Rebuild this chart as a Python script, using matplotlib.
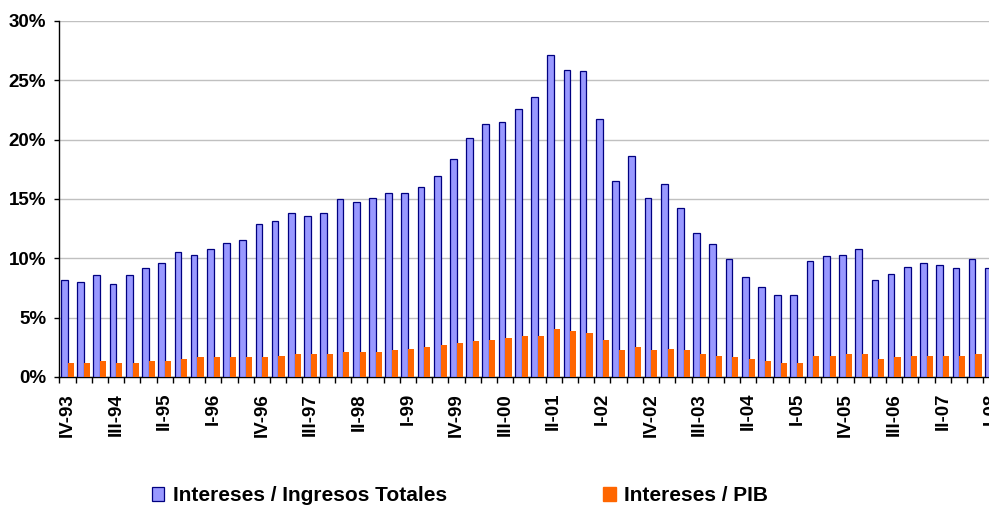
import matplotlib.pyplot as plt
from matplotlib.patches import Patch
from matplotlib.ticker import FuncFormatter, MultipleLocator

plt.rcParams['font.family'] = ['Liberation Sans', 'DejaVu Sans']
plt.rcParams['font.weight'] = 'bold'

# quarters IV-93 .. I-08
roman = ['I', 'II', 'III', 'IV']
quarters = ['IV-93']
for yy in ['94', '95', '96', '97', '98', '99', '00', '01', '02', '03', '04', '05', '06', '07']:
    for r in roman:
        quarters.append(r + '-' + yy)
quarters.append('I-08')

# intereses / ingresos totales (%)
int_ingresos = [8.2, 8.0, 8.6, 7.8, 8.6, 9.2, 9.6, 10.5, 10.3, 10.8,
                11.3, 11.5, 12.9, 13.1, 13.8, 13.6, 13.8, 15.0, 14.7, 15.1,
                15.5, 15.5, 16.0, 16.9, 18.4, 20.1, 21.3, 21.5, 22.6, 23.6,
                27.1, 25.9, 25.8, 21.7, 16.5, 18.6, 15.1, 16.3, 14.2, 12.1,
                11.2, 9.9, 8.4, 7.6, 6.9, 6.9, 9.8, 10.2, 10.3, 10.8,
                8.2, 8.7, 9.3, 9.6, 9.4, 9.2, 9.9, 9.2]
# intereses / PIB (%)
int_pib = [1.2, 1.2, 1.35, 1.2, 1.2, 1.35, 1.35, 1.5, 1.7, 1.7,
           1.7, 1.7, 1.7, 1.8, 1.95, 1.95, 1.95, 2.1, 2.1, 2.1,
           2.3, 2.35, 2.5, 2.7, 2.85, 3.0, 3.1, 3.3, 3.45, 3.45,
           4.05, 3.9, 3.7, 3.1, 2.3, 2.5, 2.3, 2.35, 2.3, 1.95,
           1.8, 1.7, 1.5, 1.35, 1.2, 1.2, 1.8, 1.8, 1.95, 1.95,
           1.5, 1.7, 1.8, 1.8, 1.8, 1.8, 1.95, 1.9]

blue = '#9999ff'
navy = '#000080'
orange = '#ff6600'

fig = plt.figure(figsize=(9.89, 5.08), dpi=100)
ax = fig.add_axes([0.06, 0.258, 0.9506, 0.7008])

x = list(range(len(quarters)))
ax.bar([i - 0.395 for i in x], int_ingresos, width=0.415, align='edge',
       color=blue, edgecolor=navy, linewidth=0.9, zorder=3)
ax.bar([i + 0.02 for i in x], int_pib, width=0.375, align='edge',
       color=orange, linewidth=0, zorder=3)

ax.set_xlim(-0.5, len(quarters) - 0.5)
ax.set_ylim(0, 30)
ax.yaxis.set_major_locator(MultipleLocator(5))
ax.yaxis.set_major_formatter(FuncFormatter(lambda v, p: '%d%%' % v))
ax.grid(axis='y', color='#c0c0c0', linewidth=1, zorder=0)

ax.set_xticks(x[::3])
ax.set_xticklabels(quarters[::3], rotation=90, va='top', ha='center')
ax.set_xticks([i - 0.5 for i in range(len(quarters) + 1)], minor=True)
ax.tick_params(axis='x', which='major', length=0, pad=11.5, labelsize=13.5)
ax.tick_params(axis='x', which='minor', length=4, width=1, direction='out')
ax.tick_params(axis='y', length=3.5, width=1, pad=6, labelsize=13.5)

for s in ['top', 'right']:
    ax.spines[s].set_visible(False)
ax.spines['left'].set_linewidth(1)
ax.spines['bottom'].set_linewidth(1)

handles = [Patch(facecolor=blue, edgecolor=navy, linewidth=0.9),
           Patch(facecolor=orange, edgecolor=orange)]
fig.legend(handles, ['Intereses / Ingresos Totales', 'Intereses / PIB'],
           loc='center', bbox_to_anchor=(0.465, 0.024), ncol=2, frameon=False,
           fontsize=15, handlelength=0.6, handleheight=0.6, handletextpad=0.4,
           columnspacing=7.5)

fig.savefig('out.png', dpi=100)
